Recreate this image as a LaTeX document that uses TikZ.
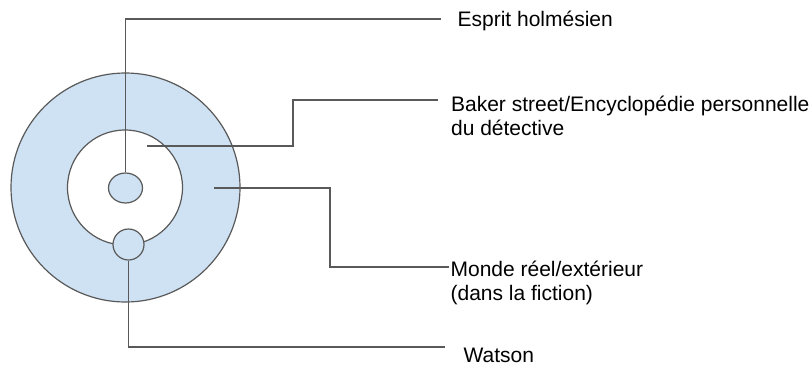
\documentclass[tikz,border=0pt]{standalone}
\usepackage{fontspec}
\setmainfont{Liberation Sans}
\usetikzlibrary{shapes.geometric}
\definecolor{trait}{RGB}{89,89,89}
\definecolor{bleu}{RGB}{207,226,243}

\begin{document}
\begin{tikzpicture}[x=1pt,y=-1pt,line width=1.2pt,
    rond/.style={circle,draw=trait,inner sep=0pt},
    lien/.style={draw=trait,line width=1.2pt},
    etiq/.style={anchor=base west,inner sep=0pt,align=left,font=\fontsize{21}{24}\selectfont}]
            \useasboundingbox (0,0) rectangle (809,365);
            \node[rond,fill=bleu,minimum size=229pt] (monde) at (125.5,187.5) {};
            \node[rond,fill=white,minimum size=115pt] (baker) at (125,187.5) {};
            \node[ellipse,draw=trait,fill=bleu,inner sep=0pt,minimum width=34pt,minimum height=30pt] (holmes) at (125.5,188) {};
            \node[rond,fill=bleu,minimum size=31pt] (watson) at (128.5,244.5) {};
            \coordinate (e1) at (441,19);
            \coordinate (b0) at (147,146);
            \coordinate (b1) at (438,100);
            \coordinate (m0) at (214,188);
            \coordinate (m1) at (449,267);
            \coordinate (w1) at (445,347);
            \draw[lien] (holmes.north) |- (e1);
            \draw[lien] (b0) -- (293,146) |- (b1);
            \draw[lien] (m0) -- (330,188) |- (m1);
            \draw[lien] (watson.south) |- (w1);
            \node[etiq] (esprit) at (457,26) {Esprit holmésien};
            \node[etiq] (bakertxt) at (450.5,135) {Baker street/Encyclopédie personnelle\\du détective};
            \node[etiq] (mondetxt) at (450,300.5) {Monde réel/extérieur\\(dans la fiction)};
            \node[etiq] (watsontxt) at (463,362) {Watson};
        \end{tikzpicture}
\end{document}
